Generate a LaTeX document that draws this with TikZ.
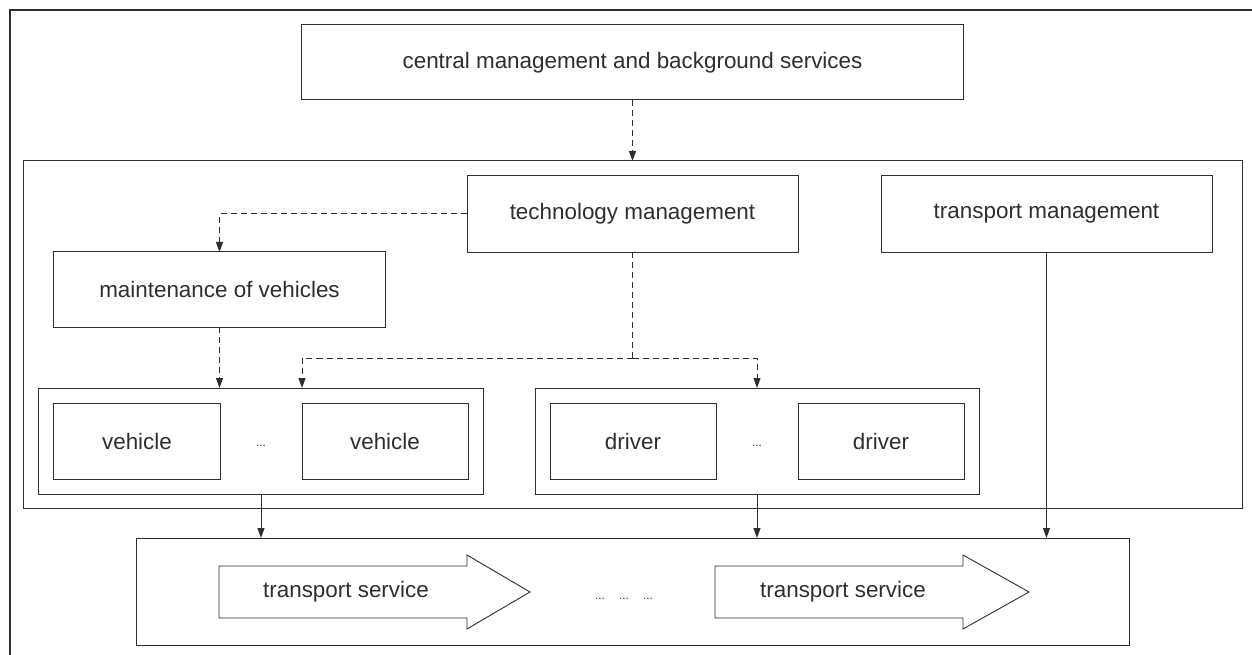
\documentclass[tikz,border=0pt]{standalone}
\usepackage{fontspec}
\setmainfont{Liberation Sans}
\usetikzlibrary{arrows.meta,calc}
\definecolor{ink}{gray}{0.18}
\begin{document}
\begin{tikzpicture}[x=1bp,y=-1bp,
  every node/.style={inner sep=0pt,outer sep=0pt,text=ink},
  box/.style={draw=ink,line width=1bp,rectangle,font=\fontsize{22.5}{27}\selectfont},
  grp/.style={draw=ink,line width=1bp,rectangle},
  dots/.style={font=\fontsize{12}{14}\selectfont,anchor=base},
  lbl/.style={font=\fontsize{22.5}{27}\selectfont},
  dline/.style={draw=ink,line width=1bp,dash pattern=on 6bp off 4bp,-{Triangle[length=10bp,width=7bp]}},
  sline/.style={draw=ink,line width=1bp,-{Triangle[length=10bp,width=7bp]}},
  shape line/.style={draw=ink,line width=0.9bp,line join=miter}]
\useasboundingbox (0,0) rectangle (1252,655);
% outer frame (only top and left edges visible)
\coordinate (ftl) at (10,10);
\draw[ink,line width=1.2bp] (10,655) -- (ftl) -- (1252,10);
% central
\node[box,minimum width=661bp,minimum height=75bp] (central) at (632.5,62.5) {central management and background services};
% big group
\node[grp,minimum width=1218bp,minimum height=347bp] (big) at (633,334.5) {};
\node[box,minimum width=331bp,minimum height=76bp] (tech) at (632.5,214) {technology management};
\node[box,minimum width=331bp,minimum height=76bp] (tm) at (1046.5,214) {transport management};
\node[box,minimum width=331bp,minimum height=75bp] (maint) at (219.5,289.5) {maintenance of vehicles};
% vehicle group
\node[grp,minimum width=444bp,minimum height=106bp] (vg) at (261,441) {};
\node[box,minimum width=166bp,minimum height=76bp] (v1) at (137,441) {vehicle};
\node[box,minimum width=166bp,minimum height=76bp] (v2) at (385,441) {vehicle};
\node[dots] (vdots) at (261,446) {...};
% driver group
\node[grp,minimum width=444bp,minimum height=106bp] (dg) at (757,441) {};
\node[box,minimum width=166bp,minimum height=76bp] (d1) at (633,441) {driver};
\node[box,minimum width=166bp,minimum height=76bp] (d2) at (881,441) {driver};
\node[dots] (ddots) at (757,446) {...};
% transport box
\node[grp,minimum width=992bp,minimum height=107bp] (tb) at (633,591.5) {};
\draw[shape line] (219,566) -- (467,566) -- (467,555) -- (530,592) -- (467,629) -- (467,618) -- (219,618) -- cycle;
\draw[shape line] (715,566) -- (963,566) -- (963,555) -- (1029,592) -- (963,629) -- (963,618) -- (715,618) -- cycle;
\node[lbl] (ts1) at (346,592) {transport service};
\node[lbl] (ts2) at (843,592) {transport service};
\node[dots] (b1) at (600,599) {...};
\node[dots] (b2) at (624,599) {...};
\node[dots] (b3) at (648,599) {...};
% connectors
\draw[dline] (central.south) -- (central.south |- big.north);
\coordinate (tl) at (tech.west -| maint.north);
\draw[dline] (tech.west) -- (tl) -- (maint.north);
\draw[dline] (maint.south) -- (maint.south |- vg.north);
\coordinate (tj) at ($(tech.south)+(0,106)$);
\draw[draw=ink,line width=1bp,dash pattern=on 6bp off 4bp] (tech.south) -- (tj);
\draw[dline] (tj) -| (v2.west |- vg.north);
\draw[dline] (tj) -| (dg.north);
\draw[sline] (vg.south) -- (vg.south |- tb.north);
\draw[sline] (dg.south) -- (dg.south |- tb.north);
\draw[sline] (tm.south) -- (tm.south |- tb.north);
\end{tikzpicture}
\end{document}
